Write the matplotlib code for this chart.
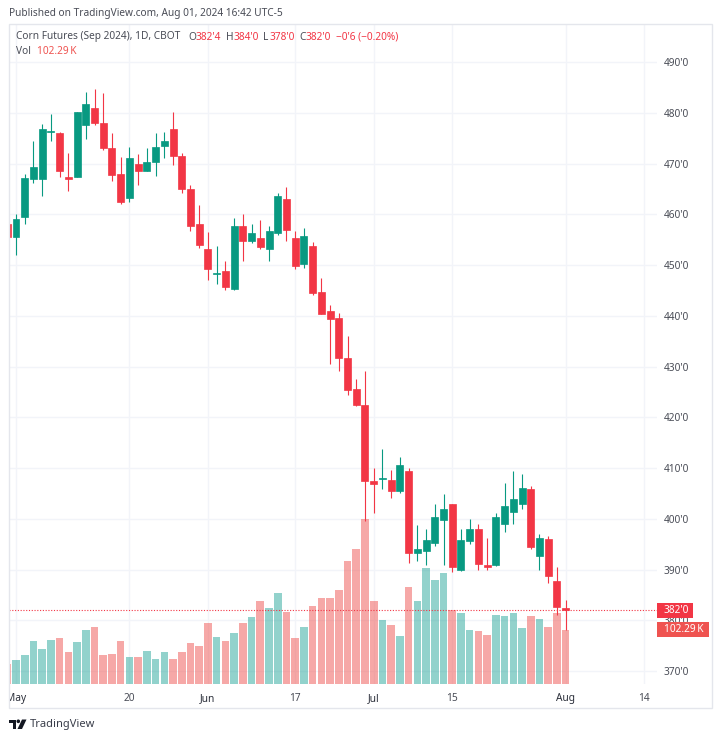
import matplotlib
matplotlib.use('Agg')
import matplotlib.pyplot as plt
from matplotlib.patches import Circle, Polygon, Rectangle
from matplotlib.transforms import Bbox
import numpy as np

plt.rcParams['font.family'] = ['Noto Sans', 'DejaVu Sans']

# --- Data ---
# trading day number, May 1 = 0; the first bar is Apr 30
days = list(range(-1, 64))
opens = [458.1, 455.6, 459.5, 466.9, 466.9, 476.3, 476.0, 467.3, 467.4, 477.6, 480.9, 478.0, 473.0,
         467.9, 463.3, 470.0, 468.6, 470.2, 473.4, 476.8, 471.5, 465.0, 458.1, 453.2, 448.2, 448.8,
         445.3, 457.7, 454.7, 455.3, 453.2, 456.4, 463.0, 455.3, 450.2, 453.7, 444.7, 441.0, 439.5,
         431.6, 425.5, 422.5, 407.5, 407.9, 407.7, 405.5, 409.5, 393.3, 393.6, 395.2, 399.8, 403.0,
         389.9, 395.7, 397.9, 390.9, 390.8, 398.9, 401.4, 403.0, 405.9, 392.7, 396.1, 387.7, 382.5]
highs = [458.1, 460.0, 467.9, 474.5, 477.8, 479.8, 476.3, 472.0, 480.1, 484.0, 484.6, 483.8, 476.0,
         471.2, 473.2, 471.9, 473.0, 476.0, 476.3, 480.1, 472.0, 465.8, 461.8, 456.5, 453.7, 450.8,
         459.3, 460.0, 458.1, 458.9, 457.6, 464.1, 465.4, 456.8, 457.3, 454.5, 447.5, 442.1, 440.5,
         436.1, 427.5, 429.1, 410.0, 413.7, 409.7, 412.2, 410.0, 398.8, 398.0, 403.0, 404.8, 403.0,
         398.0, 400.0, 399.0, 396.2, 401.1, 407.0, 409.5, 408.8, 406.5, 397.0, 396.7, 390.5, 384.0]
lows = [455.6, 452.0, 458.1, 466.2, 463.5, 474.5, 467.4, 464.6, 467.4, 474.8, 477.6, 472.7, 466.5,
        462.1, 462.5, 465.8, 468.5, 467.5, 471.1, 469.8, 464.1, 456.8, 453.3, 447.0, 446.3, 445.1,
        445.1, 450.8, 454.4, 453.2, 450.8, 456.0, 454.8, 449.2, 449.5, 444.0, 440.3, 430.5, 429.2,
        424.3, 422.3, 399.6, 401.1, 405.9, 404.0, 405.1, 391.3, 391.7, 390.8, 394.7, 390.9, 389.6,
        389.8, 395.0, 390.0, 390.0, 390.7, 397.4, 399.0, 402.0, 394.0, 390.0, 387.3, 381.0, 378.0]
closes = [455.6, 459.0, 467.1, 469.4, 476.8, 476.5, 468.5, 466.9, 480.1, 481.7, 477.9, 473.1, 467.7,
          462.4, 471.1, 468.5, 470.2, 473.2, 474.5, 471.4, 464.9, 457.6, 453.9, 449.2, 448.4, 445.7,
          457.7, 454.7, 456.3, 453.5, 456.8, 463.5, 456.9, 449.9, 455.7, 444.5, 440.4, 439.4, 431.6,
          425.4, 422.4, 407.4, 406.9, 408.0, 405.5, 410.5, 393.2, 394.0, 395.8, 400.3, 401.9, 390.4,
          395.8, 397.9, 391.1, 390.4, 400.3, 402.6, 403.8, 406.0, 394.4, 396.2, 388.7, 382.6, 382.0]
volumes = [37.3, 44.9, 54.9, 81.4, 65.7, 83.3, 86.6, 60.0, 79.0, 102.3, 108.5, 54.9, 56.8,
           81.4, 50.6, 51.7, 62.5, 47.4, 60.0, 47.4, 60.0, 77.7, 72.0, 115.0, 89.6, 81.4,
           96.6, 115.0, 126.3, 156.6, 143.9, 172.4, 135.8, 87.7, 107.4, 147.7, 162.3, 162.3, 178.0,
           233.5, 255.7, 312.5, 157.8, 121.8, 111.7, 90.9, 183.1, 157.8, 220.3, 197.0, 209.7, 140.2,
           133.9, 101.7, 99.8, 93.4, 130.7, 128.8, 133.9, 105.5, 129.4, 123.1, 108.5, 133.9, 102.29]

price_ticks = list(range(370, 500, 10))
time_ticks = [0, 13, 22, 32, 41, 50, 63, 72]
time_labels = ['May', '20', 'Jun', '17', 'Jul', '15', 'Aug', '14']
month_labels = ['May', 'Jun', 'Jul', 'Aug']

last_price = 382.0
last_volume = 102.29
volume_text = '102.29\u2009K'

# --- Colours ---
UP = '#089981'
DOWN = '#f23645'
VOL_UP = '#26a69a'
VOL_DOWN = '#ef5350'
GRID = '#f2f4f9'
FRAME = '#e4e6ec'
TEXT = '#4a4d57'

W, H = 720, 740
PANE_W, PANE_H = 648, 660
VOL_PER_PX = 1.894


def px_x(x):
    return x / W


def px_y(y):
    return 1 - y / H


def badge(axis, value, text, color, width_px, units_per_px):
    # label on the price scale, centred on the value it marks
    trans = axis.get_yaxis_transform()
    half = 7.5 * units_per_px
    axis.add_patch(Rectangle((1, value - half), width_px / PANE_W, 2 * half, transform=trans,
                             facecolor=color, edgecolor='none', clip_on=False))
    axis.annotate(text, xy=(1, value), xycoords=trans, xytext=(5, 0), textcoords='offset points',
                  va='center', ha='left', fontsize=7.3, color='white', annotation_clip=False)


fig = plt.figure(figsize=(W / 100, H / 100), dpi=100, facecolor='white')

# pane runs from x 9 to 657 and y 24 to 684 in image pixels
pos = [px_x(9), px_y(684), PANE_W / W, PANE_H / H]

ax = fig.add_axes(pos)
ax.set_xlim(-0.802, 73.47)
ax.set_ylim(367.44, 497.49)
for s in ax.spines.values():
    s.set_visible(False)

# volume pane
ax_vol = ax.twinx()
ax_vol.set_ylim(0, PANE_H * VOL_PER_PX)
ax_vol.axis('off')
is_up = np.array(closes) >= np.array(opens)
vol_colors = [VOL_UP if u else VOL_DOWN for u in is_up]
ax_vol.bar(days, volumes, width=0.87, color=vol_colors, alpha=0.5, linewidth=0)

# candles
ax_c = ax.twinx()
ax_c.set_ylim(ax.get_ylim())
ax_c.axis('off')
colors = [UP if u else DOWN for u in is_up]
ax_c.vlines(days, lows, highs, colors=colors, linewidth=0.8)
bottoms = np.minimum(opens, closes)
heights = np.abs(np.array(opens) - np.array(closes))
ax_c.bar(days, heights, bottom=bottoms, width=0.8, color=colors, edgecolor=colors, linewidth=0.5)
ax_c.axhline(last_price, color=DOWN, linestyle=(0, (1, 1.5)), linewidth=0.8)

# twinx moves the ticks, so the scale is set up after it
ax.yaxis.tick_right()
ax.set_yticks(price_ticks)
ax.set_yticklabels([f"{p}'0" for p in price_ticks], fontsize=7.3, color=TEXT)
ax.set_xticks(time_ticks)
ax.set_xticklabels(time_labels, fontsize=7.3, color=TEXT)
ax.tick_params(axis='both', length=0)
ax.tick_params(axis='y', pad=5)
ax.tick_params(axis='x', pad=6.5)
ax.grid(True, color=GRID, linewidth=1)
ax.set_axisbelow(True)
for lbl in ax.get_xticklabels():
    if lbl.get_text() in month_labels:
        lbl.set_fontweight('bold')
        lbl.set_color('#2a2e39')
    if lbl.get_text() == 'May':
        # the label runs off the left edge of the pane
        lbl.set_clip_on(True)
        lbl.set_clip_box(Bbox([[9, 0], [W, H]]))

ax.set_zorder(1)
ax_vol.set_zorder(2)
ax_c.set_zorder(3)
ax_vol.patch.set_visible(False)
ax_c.patch.set_visible(False)

# last value badges on the price scale
badge(ax_c, last_price, f"{int(last_price)}'0", DOWN, 36, 130.05 / PANE_H)
badge(ax_vol, last_volume, volume_text, VOL_DOWN, 52, VOL_PER_PX)

# outer frame
fig.add_artist(Rectangle((px_x(8.5), px_y(708)), 703.5 / W, 684.5 / H, transform=fig.transFigure,
                         fill=False, edgecolor=FRAME, linewidth=1, zorder=5))

# header texts
def put_text(x, y, s, color=TEXT, size=7.3):
    fig.text(px_x(x), px_y(y), s, color=color, fontsize=size, va='center', ha='left')


put_text(9, 13.5, 'Published on TradingView.com, Aug 01, 2024 16:42 UTC-5')
put_text(16, 37, 'Corn Futures (Sep 2024), 1D, CBOT')
for x, s in [(188, 'O'), (226, 'H'), (263, 'L'), (299, 'C')]:
    put_text(x, 37, s)
for x, s in [(196, "382'4"), (233, "384'0"), (269, "378'0"), (306, "382'0"), (336, "\u22120'6 (\u22120.20%)")]:
    put_text(x, 37, s, color=DOWN)
put_text(16, 52, 'Vol')
put_text(37, 52, volume_text, color=VOL_DOWN)

# TradingView logo and name
logo = '#131722'
fig.add_artist(Polygon([(px_x(x), px_y(y)) for x, y in
                        [(9, 719.5), (16, 719.5), (16, 729), (12.5, 729), (12.5, 723), (9, 723)]],
                       transform=fig.transFigure, color=logo, lw=0))
fig.add_artist(Circle((px_x(18.3), px_y(721.3)), 1.8 / W, transform=fig.transFigure, color=logo, lw=0))
fig.add_artist(Polygon([(px_x(x), px_y(y)) for x, y in
                        [(22, 719.5), (26.5, 719.5), (22, 729), (17.5, 729)]],
                       transform=fig.transFigure, color=logo, lw=0))
put_text(30, 724.5, 'TradingView', color='#3a3e4a', size=8)

fig.savefig('out.png', dpi=100, facecolor='white')
